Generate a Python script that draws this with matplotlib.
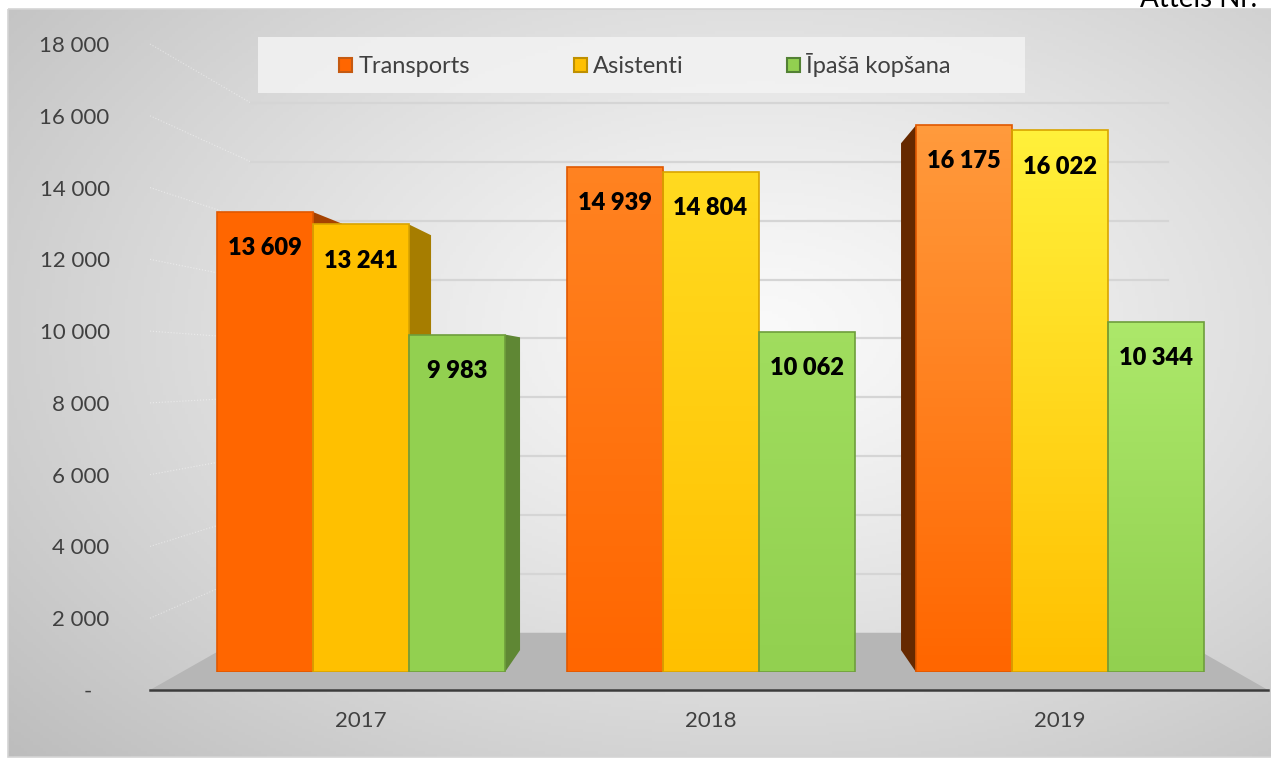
import matplotlib
matplotlib.use("Agg")
import matplotlib.pyplot as plt
import numpy as np
from matplotlib.patches import Patch, Polygon, Rectangle
from matplotlib.colors import to_rgb

plt.rcParams["font.family"] = ["Lato", "DejaVu Sans"]

# data
years = ["2017", "2018", "2019"]
series = ["Transports", "Asistenti", "Īpašā kopšana"]
transports = [13609, 14939, 16175]
asistenti = [13241, 14804, 16022]
ipasa_kopsana = [9983, 10062, 10344]
y_ticks = list(range(0, 18001, 2000))
y_max = 18000

# style
FACE = ["#ff6600", "#ffc000", "#92d050"]
SHINE = ["#ff9a3c", "#fff03a", "#ace86a"]
EDGE = ["#e05800", "#d9a400", "#6e9e3c"]
LEG_EDGE = ["#c55a11", "#bf9000", "#538135"]
SHINE_BY_GROUP = [0.0, 0.55, 1.0]
TXT = "#404040"

W, H = 1271, 758
# pixel geometry (origin top-left)
FRONT_LEFT, FRONT_RIGHT, FRONT_BASE, FRONT_TOP = 150, 1268, 690, 44
VP = (711, 372)
BACK = 0.82
BAR_BASE, BAR_TOP = 672, 63.6
GROUP0, GROUP_STEP, BAR_W_PX = 361, 349.5, 96
DEPTH = 0.073


def px_axes(left, top, right, bottom, **kw):
    return fig.add_axes([left / W, 1 - bottom / H, (right - left) / W, (bottom - top) / H], **kw)


def front_y(v):
    return FRONT_BASE - v * (FRONT_BASE - FRONT_TOP) / y_max


def back_pt(x, y):
    return VP[0] + BACK * (x - VP[0]), VP[1] + BACK * (y - VP[1])


fig = plt.figure(figsize=(W / 100, H / 100), dpi=100)

# background / walls / floor in pixel space
bg = px_axes(0, 0, W, H, zorder=0)
bg.set_xlim(0, W)
bg.set_ylim(H, 0)
bg.axis("off")
xx, yy = np.meshgrid(np.linspace(8, W, 400), np.linspace(9, 757, 240))
r = np.sqrt(((xx - 760) / 800) ** 2 + ((yy - 330) / 500) ** 2)
g = np.clip(0.98 - 0.18 * r ** 1.2, 0, 1)
bg.imshow(np.dstack([g, g, g]), extent=[8, W, 757, 9], aspect="auto", zorder=0)
bg.add_patch(Rectangle((8, 9), W, 748, fill=False, ec="#d4d4d4", lw=1.2, zorder=1))

for v in y_ticks[1:]:
    fy = front_y(v)
    bx0, by = back_pt(FRONT_LEFT, fy)
    bx1, _ = back_pt(FRONT_RIGHT, fy)
    bg.plot([FRONT_LEFT, bx0], [fy, by], color="white", alpha=0.45, lw=0.8, ls=":", zorder=1)
    bg.plot([bx0, bx1], [by, by], color="#d5d5d5", lw=1.6, zorder=1)

bl = back_pt(FRONT_LEFT, FRONT_BASE)
br = back_pt(FRONT_RIGHT, FRONT_BASE)
bg.add_patch(Polygon([(FRONT_LEFT, FRONT_BASE), (FRONT_RIGHT, FRONT_BASE), br, bl],
                     closed=True, fc="#b6b6b6", ec="none", zorder=2))

# legend box
bg.add_patch(Rectangle((258, 37), 767, 56, fc="#f3f3f3", ec="none", alpha=0.85, zorder=2))
bg.text(1140, 7, "Attēls Nr.", fontsize=20, color="black", va="baseline", ha="left", zorder=3)

# front plane: value axis labels and the category axis line
front = px_axes(FRONT_LEFT, FRONT_TOP, FRONT_RIGHT, FRONT_BASE, zorder=1)
front.patch.set_alpha(0)
front.set_ylim(0, y_max)
front.set_yticks(y_ticks)
front.set_yticklabels([f"{v:,}".replace(",", " ") if v else "-   " for v in y_ticks])
front.tick_params(axis="y", length=0, pad=29, labelsize=16, labelcolor=TXT)
front.set_xticks([])
for s in ["top", "left", "right"]:
    front.spines[s].set_visible(False)
front.spines["bottom"].set_color("#3c3c3c")
front.spines["bottom"].set_linewidth(1.8)

# bars
left_px = GROUP0 - GROUP_STEP * 0.5
ax = px_axes(left_px, BAR_TOP, left_px + 3 * GROUP_STEP, BAR_BASE, zorder=2)
ax.patch.set_alpha(0)
w = BAR_W_PX / GROUP_STEP
vpx = -0.5 + (VP[0] - left_px) / GROUP_STEP
vpy = (BAR_BASE - VP[1]) / (BAR_BASE - BAR_TOP) * y_max
x = np.arange(len(years))

for i, vals in enumerate([transports, asistenti, ipasa_kopsana]):
    xs = x + (i - 1) * w
    bars = ax.bar(xs, vals, width=w, facecolor="none", edgecolor=EDGE[i], lw=1.2, zorder=3)
    base = np.array(to_rgb(FACE[i]))
    shine = np.array(to_rgb(SHINE[i]))
    for j, (bar, v) in enumerate(zip(bars, vals)):
        x0, x1 = bar.get_x(), bar.get_x() + bar.get_width()
        # visible side face toward the vanishing point
        for edge, shade in [(x1, 0.65), (x0, 0.4)]:
            if (edge == x1 and vpx > x1) or (edge == x0 and vpx < x0):
                bx = edge + DEPTH * (vpx - edge)
                poly = [(edge, 0), (edge, v), (bx, v + DEPTH * (vpy - v)), (bx, DEPTH * vpy)]
                ax.add_patch(Polygon(poly, closed=True, fc=base * shade, ec="none", zorder=1))
        t = np.linspace(1, 0, 64)[:, None, None]
        top = base + SHINE_BY_GROUP[j] * (shine - base)
        grad = base + t * (top - base)
        im = ax.imshow(grad, extent=[x0, x1, 0, v], aspect="auto", origin="upper", zorder=2)
        im.set_clip_path(bar)
        ax.annotate(f"{v:,}".replace(",", " "), (bar.get_x() + w / 2, v), xytext=(0, -26),
                    textcoords="offset points", ha="center", va="center",
                    fontsize=17, fontweight="heavy", color="black", zorder=4)

ax.set_xlim(-0.5, 2.5)
ax.set_ylim(0, y_max)
ax.set_yticks([])
ax.set_xticks(x)
ax.set_xticklabels(years)
ax.tick_params(axis="x", length=0, pad=28, labelsize=16, labelcolor=TXT)
for s in ax.spines.values():
    s.set_visible(False)

handles = [Patch(fc=FACE[i], ec=LEG_EDGE[i], lw=1.5) for i in range(3)]
fig.legend(handles, series, loc="center", bbox_to_anchor=(645 / W, 1 - 65 / H), ncol=3,
           frameon=False, fontsize=17, labelcolor=TXT, handlelength=0.55, handleheight=0.55,
           handletextpad=0.25, columnspacing=4.4)

fig.savefig("out.png", dpi=100)
